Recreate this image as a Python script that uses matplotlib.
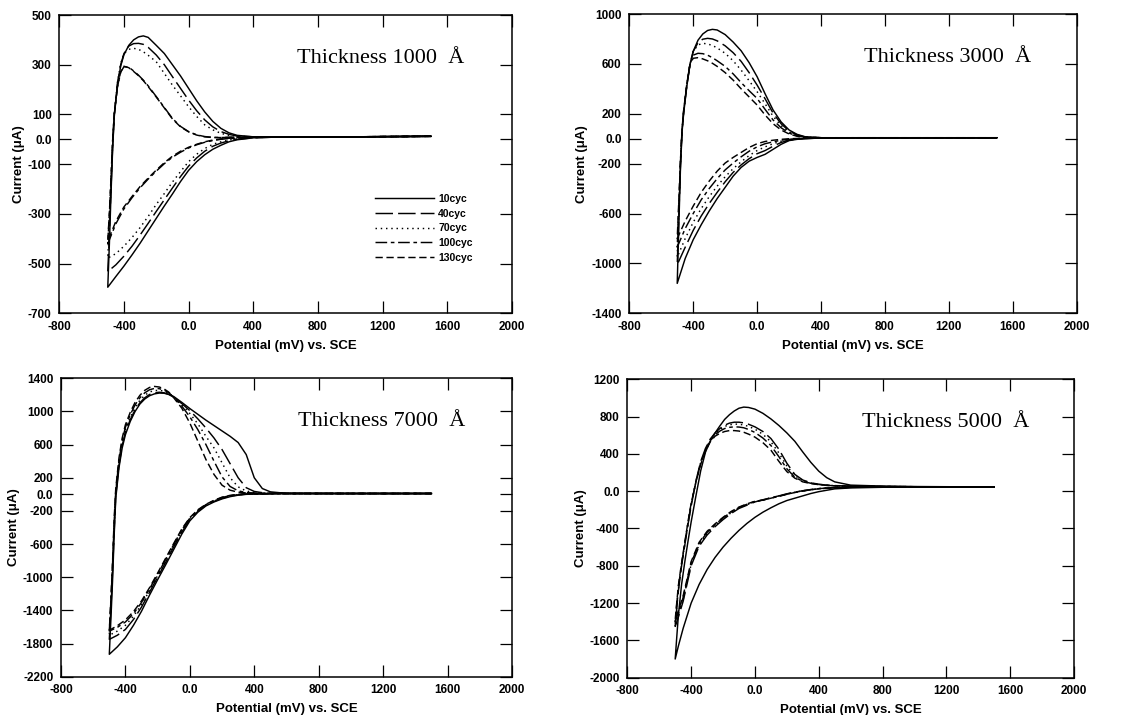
import matplotlib
matplotlib.use('Agg')
import matplotlib.pyplot as plt

# ---------------- data ----------------
CYCLES = ['10cyc', '40cyc', '70cyc', '100cyc', '130cyc']
XTICKS = [-800, -400, 0, 400, 800, 1200, 1600, 2000]
XTICK_LABELS = ['-800', '-400', '0.0', '400', '800', '1200', '1600', '2000']

# Thickness 1000 A
E_UP_1000 = [-500, -490, -480, -470, -460, -440, -420, -400, -370, -340, -310, -280, -250, -200,
             -150, -100, -50, 0, 50, 100, 150, 200, 250, 300, 400, 600, 1000, 1500]
I_UP_1000_10 = [-595, -420, -220, -40, 90, 220, 295, 340, 378, 400, 412, 416, 410, 378, 345, 300, 255, 205,
                155, 110, 72, 44, 26, 16, 10, 10, 10, 12]
I_UP_1000_40 = [-532, -380, -200, -30, 95, 225, 300, 345, 375, 385, 386, 382, 370, 339, 300, 252, 205, 158,
                115, 78, 50, 31, 20, 13, 10, 10, 10, 12]
I_UP_1000_70 = [-478, -340, -180, -20, 100, 230, 305, 345, 362, 366, 362, 352, 338, 312, 265, 218, 175, 131,
                92, 58, 38, 24, 16, 12, 10, 10, 10, 12]
I_UP_1000_100 = [-420, -300, -160, -10, 100, 210, 270, 292, 290, 275, 258, 238, 215, 172, 128, 84, 52, 31,
                 18, 11, 8, 7, 8, 9, 10, 10, 10, 12]
I_UP_1000_130 = [-410, -295, -155, -5, 105, 212, 272, 294, 288, 273, 256, 236, 212, 170, 126, 82, 50, 30,
                 17, 10, 7, 7, 8, 9, 10, 10, 10, 12]
E_DN_1000 = [1500, 1000, 600, 400, 300, 250, 200, 150, 100, 50, 0, -50, -100, -150, -200, -250, -300, -350,
             -400, -450, -500]
I_DN_1000_10 = [12, 10, 10, 6, -2, -10, -24, -40, -62, -90, -125, -170, -220, -268, -318, -368, -418, -465,
                -510, -552, -595]
I_DN_1000_40 = [12, 10, 10, 6, 0, -6, -15, -28, -48, -75, -108, -150, -196, -243, -290, -338, -385, -430,
                -470, -505, -532]
I_DN_1000_70 = [12, 10, 10, 7, 2, -3, -10, -20, -37, -60, -90, -130, -172, -218, -262, -310, -355, -395,
                -430, -460, -478]
I_DN_1000_100 = [12, 10, 10, 8, 5, 3, 0, -5, -12, -22, -35, -52, -72, -98, -128, -160, -195, -235,
                 -280, -340, -420]
I_DN_1000_130 = [12, 10, 10, 8, 6, 4, 1, -3, -10, -20, -32, -48, -68, -94, -124, -156, -190, -230,
                 -272, -330, -410]
YTICKS_1000 = [500, 300, 100, 0, -100, -300, -500, -700]
YTICK_LABELS_1000 = ['500', '300', '100', '0.0', '-100', '-300', '-500', '-700']

# Thickness 3000 A
E_UP_3000 = [-500, -490, -480, -470, -460, -440, -420, -400, -370, -340, -310, -280, -250, -200,
             -150, -100, -50, 0, 50, 100, 150, 200, 250, 300, 400, 600, 1000, 1500]
I_UP_3000_10 = [-1160, -700, -250, 50, 200, 420, 595, 700, 790, 840, 868, 877, 872, 835, 775, 705, 610, 497,
                360, 230, 135, 70, 35, 16, 8, 8, 8, 8]
I_UP_3000_40 = [-1010, -620, -220, 60, 210, 425, 598, 700, 770, 798, 805, 800, 785, 745, 690, 620, 530, 430,
                320, 205, 120, 62, 30, 14, 8, 8, 8, 8]
I_UP_3000_70 = [-950, -580, -200, 65, 215, 430, 600, 700, 752, 765, 760, 748, 728, 685, 625, 550, 465, 377,
                280, 180, 105, 55, 27, 13, 8, 8, 8, 8]
I_UP_3000_100 = [-870, -540, -190, 70, 220, 435, 600, 670, 685, 682, 670, 650, 625, 580, 520, 450, 385, 323,
                 235, 150, 88, 45, 22, 12, 8, 8, 8, 8]
I_UP_3000_130 = [-800, -500, -180, 75, 225, 440, 598, 645, 650, 640, 625, 605, 580, 530, 470, 400, 335, 270,
                 190, 120, 70, 38, 20, 11, 8, 8, 8, 8]
E_DN_3000 = [1500, 1000, 600, 400, 300, 250, 200, 150, 100, 50, 0, -50, -100, -150, -200, -250, -300, -350,
             -400, -450, -500]
I_DN_3000_10 = [8, 8, 8, 6, 0, -5, -15, -45, -85, -125, -150, -180, -230, -300, -390, -480, -580, -690,
                -810, -960, -1160]
I_DN_3000_40 = [8, 8, 8, 6, 1, -4, -12, -30, -60, -95, -120, -160, -210, -270, -345, -430, -520, -620,
                -735, -870, -1010]
I_DN_3000_70 = [8, 8, 8, 6, 3, -2, -8, -20, -40, -65, -95, -135, -185, -240, -305, -380, -465, -560,
                -670, -800, -950]
I_DN_3000_100 = [8, 8, 8, 7, 4, 0, -5, -12, -25, -40, -65, -100, -145, -195, -250, -320, -400, -490,
                 -600, -720, -870]
I_DN_3000_130 = [8, 8, 8, 7, 5, 2, 0, -5, -12, -22, -40, -70, -110, -150, -195, -260, -340, -430,
                 -540, -660, -800]
YTICKS_3000 = [1000, 600, 200, 0, -200, -600, -1000, -1400]
YTICK_LABELS_3000 = ['1000', '600', '200', '0.0', '-200', '-600', '-1000', '-1400']

# Thickness 7000 A
E_UP_7000 = [-500, -490, -480, -470, -460, -440, -420, -400, -370, -340, -310, -280, -250, -220, -190,
             -160, -130, -100, -50, 0, 50, 100, 150, 200, 250, 300, 350, 400, 450, 500, 600, 1000, 1500]
I_UP_7000_10 = [-1930, -1500, -1050, -500, -50, 320, 560, 720, 880, 1000, 1090, 1150, 1190, 1212, 1222,
                1220, 1205, 1180, 1110, 1035, 965, 895, 830, 765, 700, 625, 480, 200, 70, 30, 12, 10, 10]
I_UP_7000_40 = [-1750, -1380, -950, -450, -20, 350, 590, 750, 900, 1020, 1105, 1165, 1205, 1225, 1232,
                1225, 1205, 1170, 1095, 1010, 910, 800, 680, 540, 370, 200, 80, 35, 20, 14, 10, 10, 10]
I_UP_7000_70 = [-1700, -1330, -900, -400, 10, 380, 620, 780, 930, 1050, 1135, 1195, 1235, 1252, 1255,
                1245, 1220, 1175, 1085, 975, 850, 700, 560, 380, 200, 90, 40, 22, 14, 12, 10, 10, 10]
I_UP_7000_100 = [-1650, -1280, -850, -350, 40, 410, 650, 810, 960, 1080, 1165, 1225, 1262, 1278, 1275,
                 1258, 1225, 1170, 1065, 935, 780, 600, 400, 210, 95, 42, 22, 15, 12, 11, 10, 10, 10]
I_UP_7000_130 = [-1640, -1260, -820, -300, 70, 440, 680, 840, 990, 1110, 1195, 1255, 1290, 1302, 1295,
                 1272, 1232, 1165, 1040, 860, 640, 420, 240, 110, 50, 26, 17, 13, 12, 11, 10, 10, 10]
E_DN_7000 = [1500, 1000, 600, 500, 400, 350, 300, 250, 200, 150, 100, 50, 0, -50, -100, -150, -200, -250,
             -300, -350, -400, -450, -500]
I_DN_7000_10 = [10, 10, 10, 8, 3, 0, -10, -28, -55, -92, -140, -215, -320, -480, -665, -850, -1030, -1215,
                -1410, -1580, -1730, -1840, -1930]
I_DN_7000_40 = [10, 10, 10, 8, 4, 2, -6, -22, -48, -85, -132, -205, -305, -455, -635, -820, -1000, -1180,
                -1360, -1510, -1630, -1700, -1750]
I_DN_7000_70 = [10, 10, 10, 8, 5, 3, -4, -18, -42, -80, -128, -198, -295, -440, -620, -800, -980, -1160,
                -1330, -1470, -1580, -1650, -1700]
I_DN_7000_100 = [10, 10, 10, 8, 5, 3, -3, -15, -38, -76, -124, -192, -287, -428, -605, -785, -965, -1140,
                 -1305, -1440, -1540, -1605, -1650]
I_DN_7000_130 = [10, 10, 10, 8, 6, 4, 0, -12, -34, -72, -120, -186, -280, -418, -592, -770, -950, -1125,
                 -1285, -1415, -1515, -1585, -1640]
YTICKS_7000 = [1400, 1000, 600, 200, 0, -200, -600, -1000, -1400, -1800, -2200]
YTICK_LABELS_7000 = ['1400', '1000', '600', '200', '0.0', '-200', '-600', '-1000', '-1400', '-1800', '-2200']

# Thickness 5000 A
E_UP_5000 = [-500, -490, -480, -460, -440, -420, -400, -370, -340, -310, -280, -250, -220, -190, -160,
             -130, -100, -70, -40, 0, 50, 100, 150, 200, 250, 300, 350, 400, 450, 500, 600, 800, 1000, 1500]
I_UP_5000_10 = [-1800, -1560, -1330, -1000, -760, -540, -330, -50, 220, 420, 540, 625, 700, 770, 820,
                860, 890, 902, 898, 880, 835, 775, 705, 625, 535, 420, 310, 215, 145, 100, 65, 55, 50, 45]
I_UP_5000_40 = [-1450, -1250, -1070, -800, -580, -360, -160, 110, 320, 460, 560, 625, 672, 708, 730,
                740, 740, 733, 718, 690, 640, 565, 450, 300, 180, 120, 90, 75, 65, 60, 55, 50, 48, 45]
I_UP_5000_70 = [-1420, -1230, -1050, -790, -570, -350, -150, 105, 310, 450, 550, 615, 660, 695, 712,
                720, 718, 710, 695, 665, 610, 530, 410, 270, 165, 115, 88, 73, 64, 59, 54, 50, 48, 45]
I_UP_5000_100 = [-1400, -1210, -1030, -780, -560, -340, -140, 100, 300, 440, 540, 605, 645, 672, 685,
                 690, 688, 680, 662, 630, 570, 490, 370, 240, 150, 105, 85, 72, 63, 58, 54, 50, 48, 45]
I_UP_5000_130 = [-1380, -1190, -1010, -770, -550, -330, -130, 95, 290, 430, 530, 590, 620, 640, 650,
                 650, 645, 632, 612, 580, 520, 440, 320, 210, 140, 100, 82, 70, 62, 57, 53, 50, 48, 45]
E_DN_5000 = [1500, 1000, 800, 600, 500, 400, 350, 300, 250, 200, 150, 100, 50, 0, -50, -100, -150, -200,
             -250, -300, -350, -400, -450, -480, -500]
I_DN_5000_10 = [45, 45, 42, 35, 25, -5, -25, -50, -75, -100, -135, -178, -225, -280, -345, -420, -505, -600,
                -710, -840, -1000, -1200, -1470, -1660, -1800]
I_DN_5000_40 = [45, 45, 45, 42, 38, 28, 18, 5, -10, -28, -50, -70, -92, -115, -150, -185, -240, -305,
                -380, -470, -590, -800, -1180, -1350, -1450]
I_DN_5000_70 = [45, 45, 45, 42, 38, 28, 17, 4, -12, -30, -52, -72, -94, -112, -145, -180, -232, -295,
                -368, -455, -575, -785, -1160, -1320, -1420]
I_DN_5000_100 = [45, 45, 45, 42, 38, 27, 16, 3, -13, -32, -54, -74, -95, -110, -140, -175, -225, -287,
                 -358, -442, -560, -770, -1140, -1300, -1400]
I_DN_5000_130 = [45, 45, 45, 42, 37, 26, 15, 2, -14, -33, -55, -75, -96, -108, -136, -170, -218, -280,
                 -350, -430, -548, -755, -1120, -1280, -1380]
YTICKS_5000 = [1200, 800, 400, 0, -400, -800, -1200, -1600, -2000]
YTICK_LABELS_5000 = ['1200', '800', '400', '0.0', '-400', '-800', '-1200', '-1600', '-2000']

# ---------------- drawing ----------------
STYLES = ['-', (0, (12, 3.5)), (0, (1, 2.6)), (0, (8, 2.5, 2.5, 2.5)), (0, (5, 2.5))]

panels = [
    dict(rect=[0.052, 0.5618, 0.397, 0.4172], title='Thickness 1000  \u00c5',
         eup=E_UP_1000, edn=E_DN_1000,
         iup=[I_UP_1000_10, I_UP_1000_40, I_UP_1000_70, I_UP_1000_100, I_UP_1000_130],
         idn=[I_DN_1000_10, I_DN_1000_40, I_DN_1000_70, I_DN_1000_100, I_DN_1000_130],
         yt=YTICKS_1000, ytl=YTICK_LABELS_1000, legend=True),
    dict(rect=[0.552, 0.5618, 0.3925, 0.4186], title='Thickness 3000  \u00c5',
         eup=E_UP_3000, edn=E_DN_3000,
         iup=[I_UP_3000_10, I_UP_3000_40, I_UP_3000_70, I_UP_3000_100, I_UP_3000_130],
         idn=[I_DN_3000_10, I_DN_3000_40, I_DN_3000_70, I_DN_3000_100, I_DN_3000_130],
         yt=YTICKS_3000, ytl=YTICK_LABELS_3000, legend=False),
    dict(rect=[0.0535, 0.0536, 0.3956, 0.4173], title='Thickness 7000  \u00c5',
         eup=E_UP_7000, edn=E_DN_7000,
         iup=[I_UP_7000_10, I_UP_7000_40, I_UP_7000_70, I_UP_7000_100, I_UP_7000_130],
         idn=[I_DN_7000_10, I_DN_7000_40, I_DN_7000_70, I_DN_7000_100, I_DN_7000_130],
         yt=YTICKS_7000, ytl=YTICK_LABELS_7000, legend=False),
    dict(rect=[0.5503, 0.0522, 0.3918, 0.4173], title='Thickness 5000  \u00c5',
         eup=E_UP_5000, edn=E_DN_5000,
         iup=[I_UP_5000_10, I_UP_5000_40, I_UP_5000_70, I_UP_5000_100, I_UP_5000_130],
         idn=[I_DN_5000_10, I_DN_5000_40, I_DN_5000_70, I_DN_5000_100, I_DN_5000_130],
         yt=YTICKS_5000, ytl=YTICK_LABELS_5000, legend=False),
]

SANS = 'Liberation Sans'
fig = plt.figure(figsize=(11.4, 7.15), dpi=100)

for p in panels:
    ax = fig.add_axes(p['rect'])
    for k, lab in enumerate(CYCLES):
        xs = list(p['edn']) + list(p['eup'])
        ys = list(p['idn'][k]) + list(p['iup'][k])
        ax.plot(xs, ys, color='black', lw=1.05, linestyle=STYLES[k], label=lab,
                solid_joinstyle='round')
    ax.set_xlim(XTICKS[0], XTICKS[-1])
    ax.set_ylim(min(p['yt']), max(p['yt']))
    ax.set_xticks(XTICKS, XTICK_LABELS, fontsize=8.5, fontweight='bold', family=SANS)
    ax.set_yticks(p['yt'], p['ytl'], fontsize=8.5, fontweight='bold', family=SANS)
    ax.tick_params(direction='in', length=8.5, width=0.9, top=True, right=True, pad=5.5)
    for sp in ax.spines.values():
        sp.set_linewidth(1.1)
    ax.set_xlabel('Potential (mV) vs. SCE', fontsize=9.5, fontweight='bold', family=SANS, labelpad=5)
    ax.set_ylabel('Current (\u03bcA)', fontsize=9.5, fontweight='bold', family=SANS, labelpad=2)
    ax.text(0.525, 0.84, p['title'], transform=ax.transAxes, fontsize=16,
            family='Liberation Serif', ha='left', va='baseline')
    if p['legend']:
        ax.legend(loc='upper left', bbox_to_anchor=(0.698, 0.40), frameon=False,
                  prop={'family': SANS, 'weight': 'bold', 'size': 7.5},
                  handlelength=5.6, handletextpad=0.45, labelspacing=0.45,
                  borderpad=0, borderaxespad=0)

fig.savefig('out.png', dpi=100)
